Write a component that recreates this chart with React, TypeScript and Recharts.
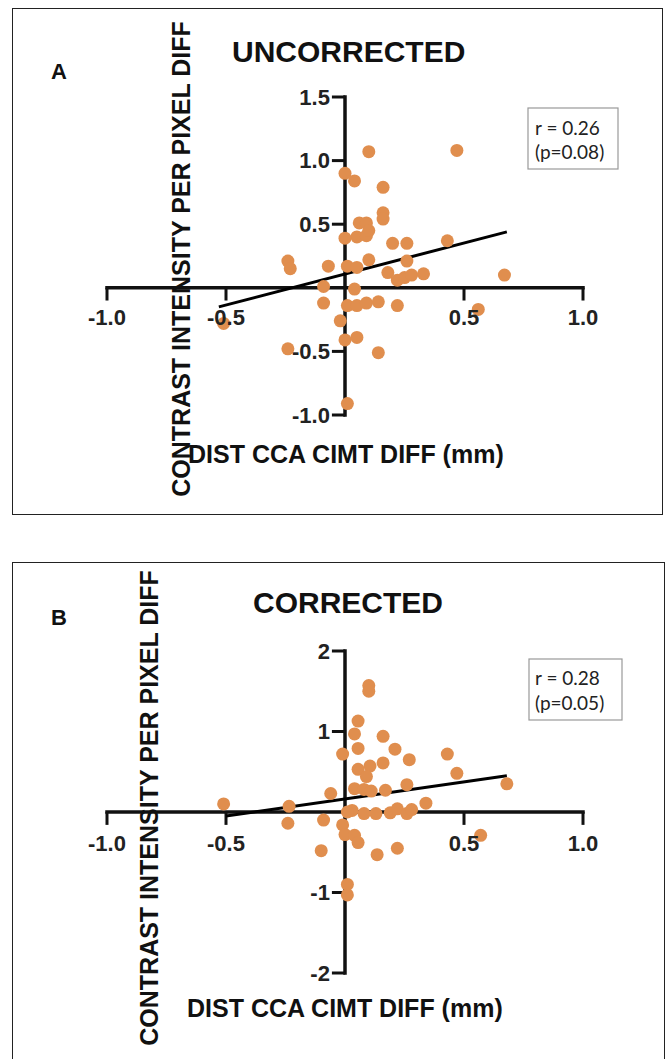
import { ScatterChart, Scatter, XAxis, YAxis, ReferenceLine } from "recharts";

// x ticks are shared by both panels
const xTickValues = [-1.0, -0.5, 0.5, 1.0];
const xTickLabels = ["-1.0", "-0.5", "0.5", "1.0"];

const uncorrectedYTicks = [1.5, 1.0, 0.5, -0.5, -1.0];
const uncorrectedYLabels = ["1.5", "1.0", "0.5", "-0.5", "-1.0"];
const correctedYTicks = [2, 1, -1, -2];
const correctedYLabels = ["2", "1", "-1", "-2"];

// panel A: uncorrected
const uncorrectedPoints = [
  { x: 0.10, y: 1.07 }, { x: 0.47, y: 1.08 }, { x: 0.0, y: 0.90 }, { x: 0.04, y: 0.84 },
  { x: 0.16, y: 0.79 }, { x: 0.16, y: 0.59 }, { x: 0.16, y: 0.54 }, { x: 0.06, y: 0.51 },
  { x: 0.09, y: 0.51 }, { x: 0.05, y: 0.40 }, { x: 0.09, y: 0.41 }, { x: 0.10, y: 0.45 },
  { x: 0.0, y: 0.39 }, { x: 0.20, y: 0.35 }, { x: 0.26, y: 0.35 }, { x: 0.43, y: 0.37 },
  { x: -0.24, y: 0.21 }, { x: -0.23, y: 0.15 }, { x: -0.07, y: 0.17 }, { x: 0.01, y: 0.17 },
  { x: 0.05, y: 0.16 }, { x: 0.10, y: 0.22 }, { x: 0.26, y: 0.21 }, { x: 0.18, y: 0.12 },
  { x: 0.22, y: 0.06 }, { x: 0.25, y: 0.08 }, { x: 0.28, y: 0.10 }, { x: 0.33, y: 0.11 },
  { x: 0.67, y: 0.10 }, { x: -0.09, y: 0.01 }, { x: 0.04, y: -0.01 }, { x: -0.09, y: -0.12 },
  { x: 0.01, y: -0.14 }, { x: 0.05, y: -0.14 }, { x: 0.09, y: -0.12 }, { x: 0.14, y: -0.11 },
  { x: 0.22, y: -0.14 }, { x: 0.56, y: -0.17 }, { x: -0.51, y: -0.28 }, { x: -0.02, y: -0.26 },
  { x: 0.0, y: -0.41 }, { x: 0.05, y: -0.39 }, { x: -0.24, y: -0.48 }, { x: 0.14, y: -0.51 },
  { x: 0.01, y: -0.91 },
];
const uncorrectedFit = [{ x: -0.53, y: -0.15 }, { x: 0.68, y: 0.44 }];

// panel B: corrected
const correctedPoints = [
  { x: 0.10, y: 1.57 }, { x: 0.10, y: 1.50 }, { x: 0.055, y: 1.13 }, { x: 0.04, y: 0.97 },
  { x: 0.055, y: 0.79 }, { x: -0.01, y: 0.72 }, { x: 0.16, y: 0.94 }, { x: 0.21, y: 0.78 },
  { x: 0.16, y: 0.61 }, { x: 0.27, y: 0.65 }, { x: 0.43, y: 0.72 }, { x: 0.055, y: 0.53 },
  { x: 0.105, y: 0.57 }, { x: 0.09, y: 0.44 }, { x: 0.47, y: 0.48 }, { x: 0.68, y: 0.35 },
  { x: 0.26, y: 0.34 }, { x: -0.06, y: 0.23 }, { x: 0.04, y: 0.29 }, { x: 0.08, y: 0.28 },
  { x: 0.11, y: 0.26 }, { x: 0.17, y: 0.27 }, { x: -0.51, y: 0.10 }, { x: -0.235, y: 0.07 },
  { x: 0.34, y: 0.11 }, { x: 0.03, y: 0.02 }, { x: 0.08, y: -0.02 }, { x: 0.13, y: -0.02 },
  { x: 0.19, y: -0.01 }, { x: 0.22, y: 0.04 }, { x: 0.26, y: -0.02 }, { x: 0.28, y: 0.03 },
  { x: -0.09, y: -0.10 }, { x: -0.24, y: -0.14 }, { x: -0.01, y: -0.16 }, { x: 0.0, y: -0.28 },
  { x: 0.04, y: -0.29 }, { x: 0.055, y: -0.38 }, { x: -0.10, y: -0.48 }, { x: 0.135, y: -0.53 },
  { x: 0.22, y: -0.45 }, { x: 0.57, y: -0.29 }, { x: 0.01, y: -0.90 }, { x: 0.01, y: -1.03 },
  { x: 0.01, y: 0.0 },
];
const correctedFit = [{ x: -0.5, y: -0.05 }, { x: 0.68, y: 0.45 }];

const DOT = "#E08E4E";
const INK = "#111";
const BOLD = "'Liberation Sans', Arial, sans-serif";

const Dot = (props: any) => <circle cx={props.cx} cy={props.cy} r={6.5} fill={DOT} />;

function Panel({ points, fit, yTicks, yLabels, yDomain, xTickLen, yTickLen, xLabelOffset, height, margin }: any) {
  const tickFont = { fill: "#222", fontSize: 22, fontWeight: "bold", fontFamily: BOLD };
  return (
    <ScatterChart width={670} height={height} margin={margin}>
      <XAxis type="number" dataKey="x" domain={[-1, 1]} hide />
      <YAxis type="number" dataKey="y" domain={yDomain} hide />
      {/* axes crossing at the origin */}
      <ReferenceLine
        segment={[{ x: -1, y: 0 }, { x: 1, y: 0 }]}
        stroke={INK}
        strokeWidth={3.5}
        strokeLinecap="square"
        ifOverflow="visible"
      />
      <ReferenceLine
        segment={[{ x: 0, y: yDomain[0] }, { x: 0, y: yDomain[1] }]}
        stroke={INK}
        strokeWidth={3.5}
        strokeLinecap="square"
        ifOverflow="visible"
      />
      {xTickValues.map((v, i) => (
        <ReferenceLine
          key={`xt-${i}`}
          segment={[{ x: v, y: 0 }, { x: v, y: -xTickLen }]}
          stroke={INK}
          strokeWidth={3}
          ifOverflow="visible"
          label={{ value: xTickLabels[i], position: "bottom", offset: xLabelOffset, ...tickFont }}
        />
      ))}
      {yTicks.map((v: number, i: number) => (
        <ReferenceLine
          key={`yt-${i}`}
          segment={[{ x: -yTickLen, y: v }, { x: 0, y: v }]}
          stroke={INK}
          strokeWidth={3}
          ifOverflow="visible"
          label={{ value: yLabels[i], position: "left", offset: 2, ...tickFont }}
        />
      ))}
      <Scatter data={points} shape={Dot} isAnimationActive={false} />
      <ReferenceLine segment={fit} stroke="#000" strokeWidth={3} ifOverflow="visible" />
    </ScatterChart>
  );
}

export default function App() {
  const box = { position: "absolute" as const, border: "1.5px solid #222", boxSizing: "border-box" as const };
  return (
    <div style={{ position: "absolute", left: 0, top: 0, width: 670, height: 1059, background: "#fff", overflow: "hidden" }}>
      <div style={{ ...box, left: 12, top: 8, width: 651, height: 507 }} />
      <div style={{ ...box, left: 12, top: 562, width: 653, height: 520 }} />

      <div style={{ position: "absolute", left: 0, top: 0 }}>
        <Panel
          points={uncorrectedPoints}
          fit={uncorrectedFit}
          yTicks={uncorrectedYTicks}
          yLabels={uncorrectedYLabels}
          yDomain={[-1, 1.5]}
          xTickLen={0.1}
          yTickLen={0.055}
          xLabelOffset={9}
          height={530}
          margin={{ top: 97, bottom: 115, left: 107, right: 87 }}
        />
      </div>
      <div style={{ position: "absolute", left: 0, top: 540 }}>
        <Panel
          points={correctedPoints}
          fit={correctedFit}
          yTicks={correctedYTicks}
          yLabels={correctedYLabels}
          yDomain={[-2, 2]}
          xTickLen={0.16}
          yTickLen={0.055}
          xLabelOffset={10}
          height={519}
          margin={{ top: 111, bottom: 86, left: 107, right: 87 }}
        />
      </div>

      <svg width={670} height={1059} style={{ position: "absolute", left: 0, top: 0, pointerEvents: "none" }}>
        <g fontFamily={BOLD} fontWeight="bold" fill={INK}>
          <text x={51} y={79} fontSize={22}>A</text>
          <text x={51} y={625} fontSize={22}>B</text>
          <text x={232} y={62} fontSize={30}>UNCORRECTED</text>
          <text x={253} y={613} fontSize={30}>CORRECTED</text>
          <text x={188} y={463} fontSize={25}>DIST CCA CIMT DIFF (mm)</text>
          <text x={187} y={1017} fontSize={25}>DIST CCA CIMT DIFF (mm)</text>
          <text transform="translate(190,259) rotate(-90)" textAnchor="middle" fontSize={25}>
            CONTRAST INTENSITY PER PIXEL DIFF
          </text>
          <text transform="translate(158,808) rotate(-90)" textAnchor="middle" fontSize={25}>
            CONTRAST INTENSITY PER PIXEL DIFF
          </text>
        </g>
        <g fontFamily="Lato, 'Open Sans', sans-serif" fontSize={19} fill="#222">
          <rect x={528} y={108} width={90} height={61} fill="#fff" stroke="#999" strokeWidth={1.2} />
          <text x={535} y={135}>r = 0.26</text>
          <text x={535} y={159}>(p=0.08)</text>
          <rect x={529} y={659} width={93} height={61} fill="#fff" stroke="#999" strokeWidth={1.2} />
          <text x={535} y={685}>r = 0.28</text>
          <text x={535} y={710}>(p=0.05)</text>
        </g>
      </svg>
    </div>
  );
}
